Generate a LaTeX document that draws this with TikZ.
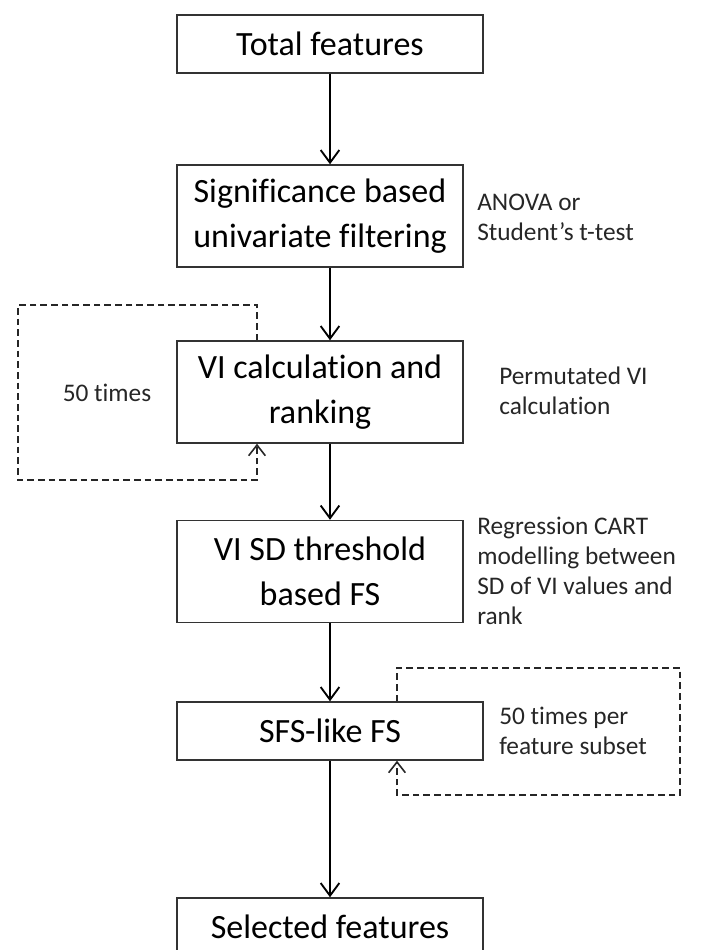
\documentclass[tikz,border=0pt]{standalone}
\usepackage{fontspec}
\setmainfont{Carlito}[Ligatures={NoCommon}]
\usetikzlibrary{arrows.meta,positioning}
\tikzset{
  stage/.style={rectangle,draw=black!80,line width=1.1pt,align=center,
    inner sep=0pt,font=\fontsize{25.5}{34}\selectfont},
  note/.style={align=left,anchor=west,inner sep=0pt,text=black!85,
    font=\fontsize{19}{22.5}\selectfont},
  flow/.style={-{Straight Barb[length=9.5pt,width=14pt,line width=1.4pt]},
    line width=1.5pt}}
\begin{document}
\begin{tikzpicture}[x=0.75pt,y=-0.75pt,
  single/.style={stage,minimum width=229.5pt,minimum height=43.5pt},
  double/.style={stage,minimum width=214.5pt,minimum height=76.5pt},
  loopedge/.style={-{Straight Barb[length=8pt,width=12.5pt,line width=1.2pt]},
    line width=1.2pt,dash pattern=on 5pt off 3pt,draw=black!85}]
  \useasboundingbox (0,0) rectangle (719,950);

  \node[single] (total) at (330,44) {Total features};
  \node[double] (signif) at (320,216)
    {Significance based\\univariate filtering};
  \node[double] (vicalc) at (320,392) {VI calculation and\\ranking};
  \node[double] (visd) at (320,571.5) {VI SD threshold\\based FS};
  \node[single] (sfs) at (330,731) {SFS-like FS};
  \node[single] (selected) at (330,927) {Selected features};

  \node[note] (nsignif) at (477,217) {ANOVA or\\Student’s t-test};
  \node[note] (nvicalc) at (499,391) {Permutated VI\\calculation};
  \node[note] (nvisd) at (477,571)
    {Regression CART\\modelling between\\SD of VI values and\\rank};
  \node[note] (nsfs) at (499,731) {50 times per\\feature subset};
  \node[note,anchor=center] (nloop) at (107,393) {50 times};

  % main flow
  \draw[flow] (total.south) -- (total.south |- signif.north);
  \draw[flow] (signif.south -| total) -- (vicalc.north -| total);
  \draw[flow] (vicalc.south -| total) -- (visd.north -| total);
  \draw[flow] (visd.south -| total) -- (sfs.north);
  \draw[flow] (sfs.south) -- (selected.north);

  % repetition loops
  \coordinate (lpa) at (257,305);
  \coordinate (lpb) at (18,480);
  \draw[loopedge] (vicalc.north -| lpa) -- (lpa) -| (lpb)
    -| (vicalc.south -| lpa);
  \coordinate (lqa) at (397,668);
  \coordinate (lqb) at (680,795);
  \draw[loopedge] (sfs.north -| lqa) -- (lqa) -| (lqb)
    -| (sfs.south -| lqa);
\end{tikzpicture}
\end{document}
